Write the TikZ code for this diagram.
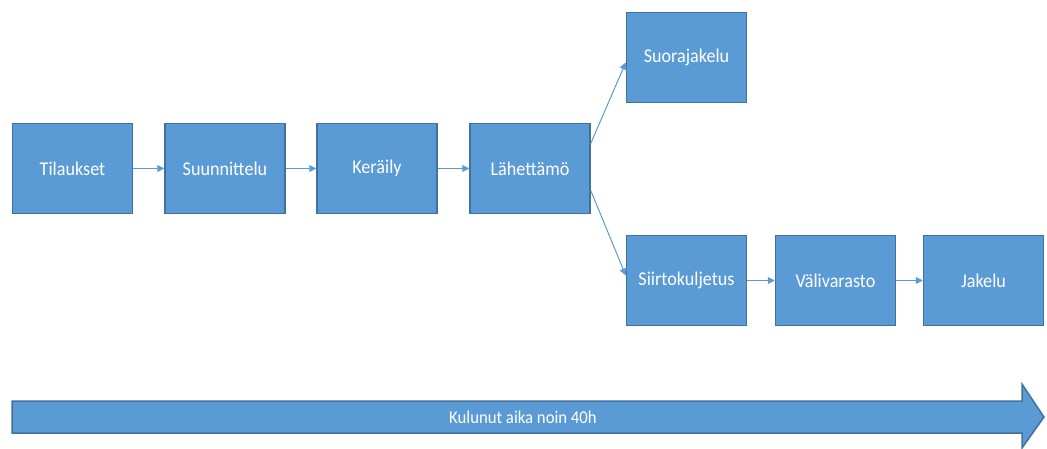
\documentclass[tikz,border=0pt]{standalone}
\usepackage{fontspec}
\setmainfont{Carlito}
\newfontfamily\boxfont[FakeStretch=0.93]{Carlito}
\usetikzlibrary{arrows.meta}
\definecolor{boxfill}{HTML}{5B9BD5}
\definecolor{boxedge}{HTML}{41719C}
\tikzset{
  stepbox/.style={draw=boxedge, line width=1.5pt, fill=boxfill, minimum width=120pt, minimum height=90pt, inner sep=0pt, text=white, font=\boxfont\fontsize{19.5}{22}\selectfont},
  conn/.style={draw=boxfill, line width=1pt, -{Triangle[length=7pt,width=7pt]}}
}
\begin{document}
\begin{tikzpicture}[x=1pt,y=-1pt]
\useasboundingbox (0,0) rectangle (1047,449);
\node[stepbox] (til) at (72.5,168.5) {Tilaukset};
\node[stepbox] (suu) at (225,168.5) {Suunnittelu};
\node[stepbox] (ker) at (377,168.5) {Keräily};
\node[stepbox] (lah) at (530,168.5) {Lähettämö};
\node[stepbox] (suo) at (686.5,57.5) {Suorajakelu};
\node[stepbox] (sii) at (686.5,280.5) {Siirtokuljetus};
\node[stepbox] (val) at (835.5,280.5) {Välivarasto};
\node[stepbox] (jak) at (983.5,280.5) {Jakelu};
\draw[conn] (til) -- (suu);
\draw[conn] (suu) -- (ker);
\draw[conn] (ker) -- (lah);
\draw[conn] ([yshift=25pt]lah.east) -- ([yshift=-5pt]suo.west);
\draw[conn] ([yshift=-22pt]lah.east) -- ([yshift=5pt]sii.west);
\draw[conn] (sii) -- (val);
\draw[conn] (val) -- (jak);
\draw[draw=boxedge, line width=1.5pt, fill=boxfill]
  (12,401) -- (1022,401) -- (1022,384) -- (1044,417) -- (1022,448) -- (1022,433) -- (12,433) -- cycle;
\node[text=white, font=\boxfont\fontsize{18}{20}\selectfont] (time) at (523,417) {Kulunut aika noin 40h};
\end{tikzpicture}
\end{document}
